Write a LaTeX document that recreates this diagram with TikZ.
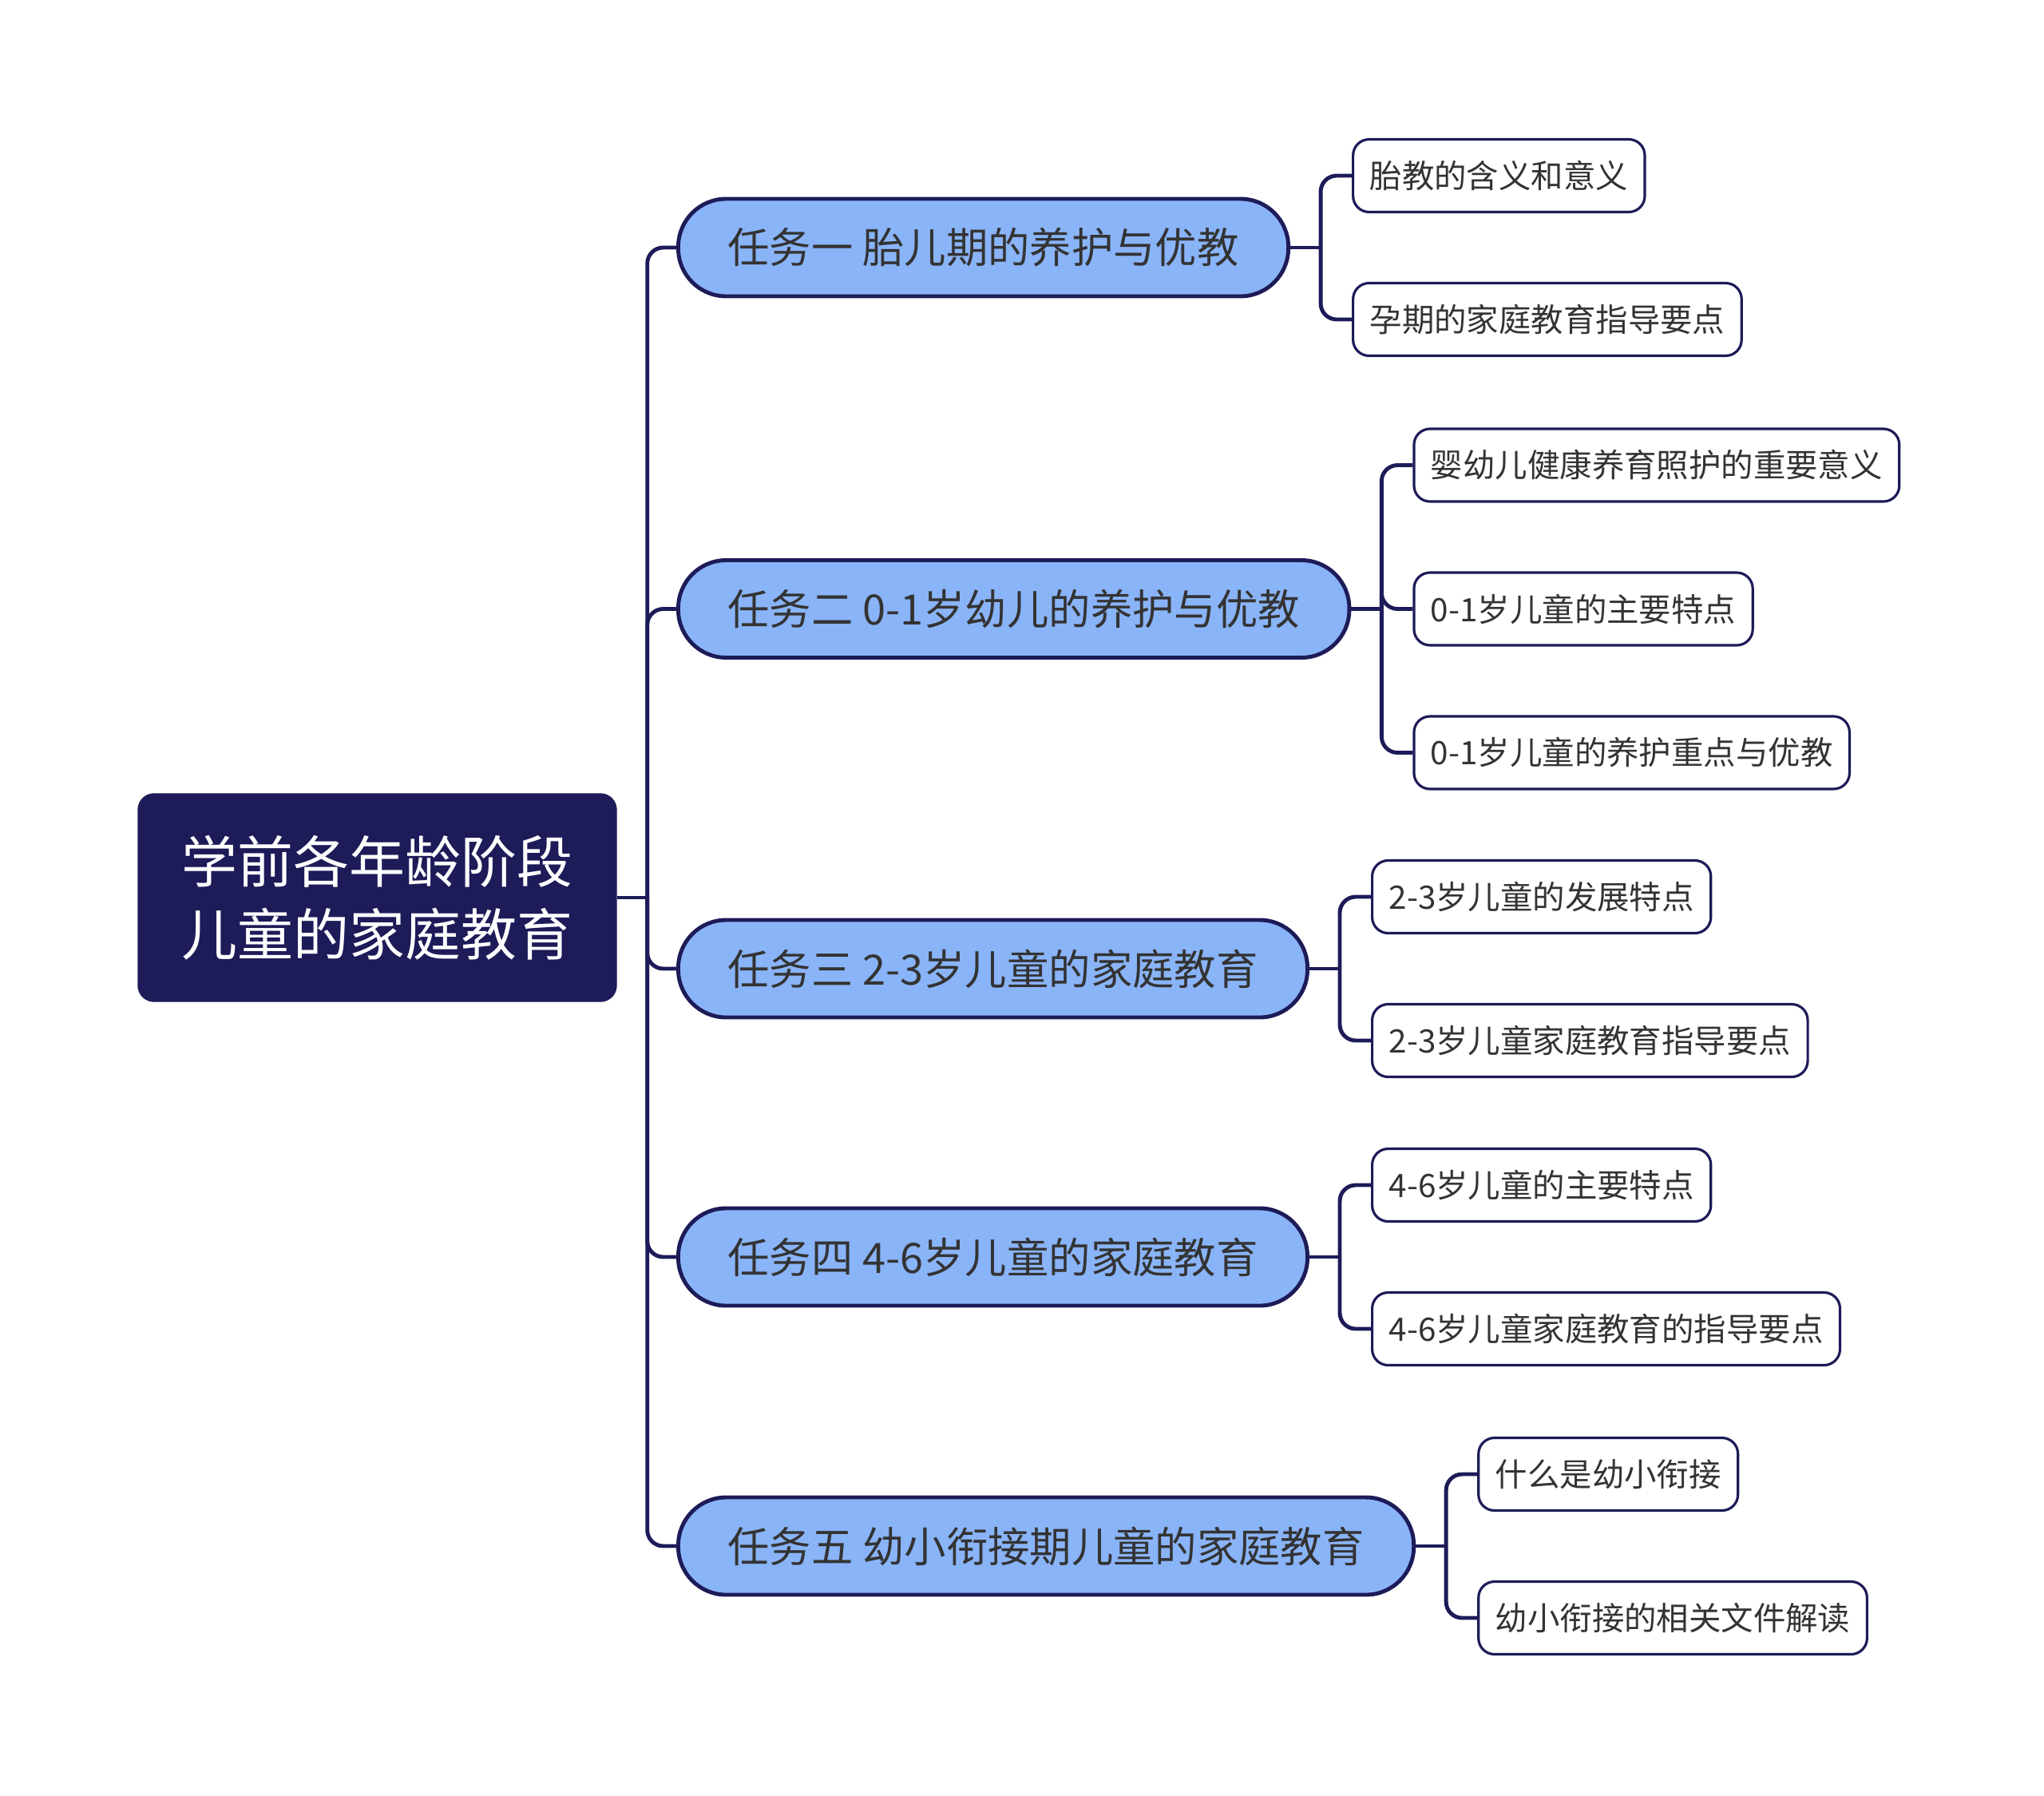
\documentclass[tikz,border=0pt]{standalone}
\usepackage{fontspec}
\newfontfamily\cjk{Noto Sans CJK SC}
\usetikzlibrary{positioning}
\definecolor{navy}{HTML}{1D1B58}
\definecolor{skyfill}{HTML}{8AB4F8}
\definecolor{inkgray}{HTML}{333333}
\begin{document}
\begin{tikzpicture}[
  root/.style={draw=navy,fill=navy,rounded corners=2mm,text=white,align=center,
    font=\cjk\fontsize{19.9}{26}\selectfont,minimum width=5.99cm,minimum height=2.6cm},
  task/.style={draw=navy,line width=1.4pt,fill=skyfill,rounded corners=6mm,text=inkgray,
    font=\cjk\fontsize{14.9}{18}\selectfont,minimum height=1.22cm,inner xsep=6.2mm,anchor=west},
  leaf/.style={draw=navy,line width=0.9pt,fill=white,rounded corners=2mm,text=inkgray,
    font=\cjk\fontsize{11.5}{14}\selectfont,minimum height=0.91cm,inner xsep=2.1mm,anchor=west},
  link/.style={draw=navy,line width=1.4pt,rounded corners=2mm}]
\useasboundingbox (0,0) rectangle (25.6,-22.48);
\node[root] (root) at (4.725,-11.24) {学前各年龄阶段\\儿童的家庭教育};
\node[task] (t1) at (8.47,-3.10) {任务一 胎儿期的养护与优教};
\node[task] (t2) at (8.47,-7.625) {任务二 0-1岁幼儿的养护与优教};
\node[task] (t3) at (8.47,-12.13) {任务三 2-3岁儿童的家庭教育};
\node[task] (t4) at (8.47,-15.74) {任务四 4-6岁儿童的家庭教育};
\node[task] (t5) at (8.47,-19.36) {任务五 幼小衔接期儿童的家庭教育};
% leaves
\node[leaf] (l1a) at ([xshift=7.7mm,yshift=9mm]t1.east) {胎教的含义和意义};
\node[leaf] (l1b) at ([xshift=7.7mm,yshift=-9mm]t1.east) {孕期的家庭教育指导要点};
\node[leaf] (l2a) at ([xshift=7.7mm,yshift=18mm]t2.east) {婴幼儿健康养育照护的重要意义};
\node[leaf] (l2b) at ([xshift=7.7mm]t2.east) {0-1岁儿童的主要特点};
\node[leaf] (l2c) at ([xshift=7.7mm,yshift=-18mm]t2.east) {0-1岁儿童的养护重点与优教};
\node[leaf] (l3a) at ([xshift=7.7mm,yshift=9mm]t3.east) {2-3岁儿童的发展特点};
\node[leaf] (l3b) at ([xshift=7.7mm,yshift=-9mm]t3.east) {2-3岁儿童家庭教育指导要点};
\node[leaf] (l4a) at ([xshift=7.7mm,yshift=9mm]t4.east) {4-6岁儿童的主要特点};
\node[leaf] (l4b) at ([xshift=7.7mm,yshift=-9mm]t4.east) {4-6岁儿童家庭教育的指导要点};
\node[leaf] (l5a) at ([xshift=7.7mm,yshift=9mm]t5.east) {什么是幼小衔接};
\node[leaf] (l5b) at ([xshift=7.7mm,yshift=-9mm]t5.east) {幼小衔接的相关文件解读};
% trunk
\coordinate (hub) at ([xshift=3.8mm]root.east);
\draw[link] (root.east) -- (hub);
\foreach \t in {t1,t2,t3,t4,t5}
  \draw[link] (hub) |- (\t.west);
% branches
\foreach \t/\leaves in {t1/{l1a,l1b},t2/{l2a,l2b,l2c},t3/{l3a,l3b},t4/{l4a,l4b},t5/{l5a,l5b}}{
  \coordinate (b-\t) at ([xshift=3.8mm]\t.east);
  \draw[link] (\t.east) -- (b-\t);
  \foreach \l in \leaves
    \draw[link] (b-\t) |- (\l.west);
}
\end{tikzpicture}
\end{document}
